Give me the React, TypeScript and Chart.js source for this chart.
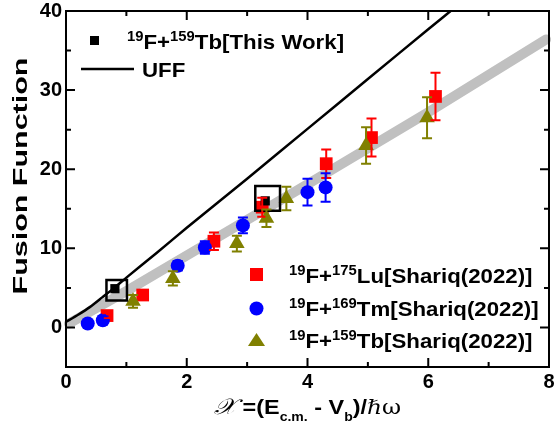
import React, { useEffect, useRef } from 'react';
import { Chart, registerables } from 'chart.js';
Chart.register(...registerables);

// ---- data ----
const bandX = [0.05, 1, 2, 4, 6, 7.95];
const bandY = [0.5, 4.6, 9.1, 18.1, 27.2, 36.4];

const uffX = [0, 0.2, 0.4, 0.6, 0.8, 1, 1.5, 2, 3, 4, 5, 6, 6.5];
const uffY = [0.7, 1.6, 2.6, 3.8, 5.0, 6.3, 9.4, 12.6, 18.8, 25.1, 31.4, 37.7, 40.8];

const thisWorkX = [0.81, 3.3];
const thisWorkY = [4.9, 16.0];
const boxX = [0.84, 3.34];
const boxY = [4.7, 16.3];

const luX = [0.68, 1.27, 2.45, 3.25, 4.31, 5.06, 6.12];
const luY = [1.5, 4.1, 10.9, 15.2, 20.7, 24.0, 29.2];
const luErr = [0.3, 0.3, 1.1, 1.2, 1.8, 2.4, 3.0];

const tmX = [0.36, 0.61, 1.85, 2.3, 2.93, 4.0, 4.3];
const tmY = [0.5, 0.9, 7.8, 10.1, 12.9, 17.1, 17.7];
const tmErr = [0.2, 0.5, 0.6, 0.8, 1.0, 1.7, 1.8];

const tbX = [1.11, 1.77, 2.83, 3.32, 3.65, 4.97, 5.98];
const tbY = [3.3, 6.2, 10.6, 13.8, 16.3, 23.0, 26.5];
const tbErr = [0.8, 0.9, 1.0, 1.1, 1.5, 2.3, 2.6];

const xMajor = [0, 2, 4, 6, 8];
const xMinor = [1, 3, 5, 7];
const yMajor = [0, 10, 20, 30, 40];
const yMinor = [5, 15, 25, 35];

const RED = '#ff0000';
const BLUE = '#0000ff';
const OLIVE = '#808000';

const pts = (xs: number[], ys: number[]) => xs.map((x, i) => ({ x, y: ys[i] }));

const FONT = '"Liberation Sans", Arial, sans-serif';

type Part = { t: string; font: string; dy?: number };
function drawRich(ctx: CanvasRenderingContext2D, x: number, y: number, parts: Part[], sx = 1, measureOnly = false) {
  let cx = 0;
  ctx.save();
  ctx.translate(x, y);
  ctx.scale(sx, 1);
  for (const p of parts) {
    ctx.font = p.font;
    if (!measureOnly) ctx.fillText(p.t, cx, p.dy || 0);
    cx += ctx.measureText(p.t).width;
  }
  ctx.restore();
  return cx * sx;
}

const zeroPad = (s: any) => {
  s.paddingLeft = 0; s.paddingRight = 0; s.paddingTop = 0; s.paddingBottom = 0;
};

const errorBars = {
  id: 'errorBars',
  afterDatasetsDraw(chart: any) {
    const ctx = chart.ctx as CanvasRenderingContext2D;
    const xs = chart.scales.x, ys = chart.scales.y;
    const sets: [number[], number[], number[], string][] = [
      [luX, luY, luErr, RED],
      [tmX, tmY, tmErr, BLUE],
      [tbX, tbY, tbErr, OLIVE],
    ];
    ctx.save();
    ctx.lineWidth = 2;
    for (const [X, Y, E, c] of sets) {
      ctx.strokeStyle = c;
      X.forEach((xv, i) => {
        const px = xs.getPixelForValue(xv);
        const top = ys.getPixelForValue(Y[i] + E[i]);
        const bot = ys.getPixelForValue(Y[i] - E[i]);
        ctx.beginPath();
        ctx.moveTo(px, top); ctx.lineTo(px, bot);
        ctx.moveTo(px - 5, top); ctx.lineTo(px + 5, top);
        ctx.moveTo(px - 5, bot); ctx.lineTo(px + 5, bot);
        ctx.stroke();
      });
    }
    ctx.restore();
  },
};

const frame = {
  id: 'frame',
  afterDraw(chart: any) {
    const ctx = chart.ctx as CanvasRenderingContext2D;
    const a = chart.chartArea;
    const xs = chart.scales.x, ys = chart.scales.y;
    ctx.save();
    ctx.strokeStyle = '#000';
    ctx.lineWidth = 2;
    ctx.strokeRect(a.left, a.top, a.right - a.left, a.bottom - a.top);
    ctx.beginPath();
    const tx = (v: number, len: number) => {
      const p = xs.getPixelForValue(v);
      ctx.moveTo(p, a.bottom); ctx.lineTo(p, a.bottom - len);
      ctx.moveTo(p, a.top); ctx.lineTo(p, a.top + len);
    };
    const ty = (v: number, len: number) => {
      const p = ys.getPixelForValue(v);
      ctx.moveTo(a.left, p); ctx.lineTo(a.left + len, p);
      ctx.moveTo(a.right, p); ctx.lineTo(a.right - len, p);
    };
    xMajor.forEach(v => tx(v, 9));
    xMinor.forEach(v => tx(v, 5));
    yMajor.forEach(v => ty(v, 9));
    yMinor.forEach(v => ty(v, 5));
    ctx.stroke();

    // Axis titles
    ctx.fillStyle = '#000';
    ctx.textBaseline = 'alphabetic';
    // y title
    ctx.save();
    ctx.translate(27, 176);
    ctx.rotate(-Math.PI / 2);
    ctx.scale(1.45, 1);
    ctx.font = `bold 21px ${FONT}`;
    ctx.textAlign = 'center';
    ctx.fillText('Fusion Function', 0, 0);
    ctx.restore();

    // x title
    const bold = `bold 20px ${FONT}`;
    const sub = `bold 12px ${FONT}`;
    const xParts: Part[] = [
      { t: '\u{1D4B3}', font: `italic 22px "DejaVu Serif", serif` },
      { t: ' =(E', font: bold },
      { t: 'c.m.', font: sub, dy: 7 },
      { t: ' - V', font: bold },
      { t: 'b', font: sub, dy: 7 },
      { t: ')/', font: bold },
      { t: '\u210F\u03C9', font: `20px "DejaVu Serif", serif` },
    ];
    ctx.textAlign = 'left';
    const w = drawRich(ctx, 0, 0, xParts, 1.17, true);
    drawRich(ctx, (a.left + a.right) / 2 - w / 2, 414, xParts, 1.17);

    // Legend top-left
    const lf = `bold 21px ${FONT}`;
    const sf = `bold 14px ${FONT}`;
    ctx.fillRect(90, 36, 9, 9);
    drawRich(ctx, 127, 49, [
      { t: '19', font: sf, dy: -8 },
      { t: 'F+', font: lf },
      { t: '159', font: sf, dy: -8 },
      { t: 'Tb[This Work]', font: lf },
    ], 1.06);
    ctx.beginPath();
    ctx.lineWidth = 2.5;
    ctx.moveTo(81, 69); ctx.lineTo(134, 69);
    ctx.stroke();
    drawRich(ctx, 142, 77, [{ t: 'UFF', font: lf }], 1.06);

    // Legend bottom-right
    const rows: [string, string, number][] = [
      ['175', 'Lu[Shariq(2022)]', 283],
      ['169', 'Tm[Shariq(2022)]', 316],
      ['159', 'Tb[Shariq(2022)]', 348],
    ];
    rows.forEach(([m, rest, base]) => {
      drawRich(ctx, 289, base, [
        { t: '19', font: sf, dy: -8 },
        { t: 'F+', font: lf },
        { t: m, font: sf, dy: -8 },
        { t: rest, font: lf },
      ], 1.06);
    });
    // markers
    ctx.fillStyle = RED;
    ctx.fillRect(250, 268, 13, 13);
    ctx.fillStyle = BLUE;
    ctx.beginPath(); ctx.arc(256.5, 308.5, 7, 0, Math.PI * 2); ctx.fill();
    ctx.fillStyle = OLIVE;
    ctx.beginPath(); ctx.moveTo(256.5, 333); ctx.lineTo(265, 346); ctx.lineTo(248, 346); ctx.closePath(); ctx.fill();
    ctx.restore();
  },
};

export default function App() {
  const ref = useRef<HTMLCanvasElement | null>(null);
  useEffect(() => {
    document.body.style.margin = '0';
    const chart = new Chart(ref.current!, {
      type: 'scatter',
      data: {
        datasets: [
          { data: pts(boxX, boxY), pointStyle: 'rect', pointRadius: [14.5, 17.5], borderColor: '#000', borderWidth: 2.5, backgroundColor: 'rgba(0,0,0,0)' } as any,
          { data: pts(thisWorkX, thisWorkY), pointStyle: 'rect', pointRadius: 6.5, borderWidth: 0, backgroundColor: '#000', borderColor: '#000' },
          { data: pts(tbX, tbY), pointStyle: 'triangle', pointRadius: 9, borderWidth: 0, backgroundColor: OLIVE, borderColor: OLIVE },
          { data: pts(tmX, tmY), pointStyle: 'circle', pointRadius: 7, borderWidth: 0, backgroundColor: BLUE, borderColor: BLUE },
          { data: pts(luX, luY), pointStyle: 'rect', pointRadius: 9, borderWidth: 0, backgroundColor: RED, borderColor: RED },
          { data: pts(uffX, uffY), showLine: true, pointRadius: 0, borderColor: '#000', borderWidth: 2.5, tension: 0.2 },
          { data: pts(bandX, bandY), showLine: true, pointRadius: 0, borderColor: '#c0c0c0', borderWidth: 10, borderCapStyle: 'round', clip: false } as any,
        ],
      },
      options: {
        responsive: false,
        devicePixelRatio: 1,
        animation: false,
        layout: { autoPadding: false, padding: { top: 11, right: 5, left: 0, bottom: 0 } },
        plugins: { legend: { display: false }, tooltip: { enabled: false } },
        scales: {
          x: {
            type: 'linear', min: 0, max: 8,
            grid: { display: false, drawTicks: false },
            border: { display: false },
            afterBuildTicks: (s: any) => { s.ticks = xMajor.map(v => ({ value: v })); },
            afterFit: (s: any) => { s.height = 64; zeroPad(s); },
            ticks: { font: { family: FONT, weight: 'bold', size: 20 }, color: '#000', padding: 3, maxRotation: 0 },
          },
          y: {
            type: 'linear', min: -5, max: 40,
            grid: { display: false, drawTicks: false },
            border: { display: false },
            afterBuildTicks: (s: any) => { s.ticks = yMajor.map(v => ({ value: v })); },
            afterFit: (s: any) => { s.width = 66; zeroPad(s); },
            ticks: { font: { family: FONT, weight: 'bold', size: 20 }, color: '#000', padding: 4 },
          },
        },
      },
      plugins: [errorBars, frame],
    });
    return () => chart.destroy();
  }, []);
  return (
    <div style={{ width: 554, height: 431 }}>
      <canvas ref={ref} width={554} height={431} />
    </div>
  );
}
